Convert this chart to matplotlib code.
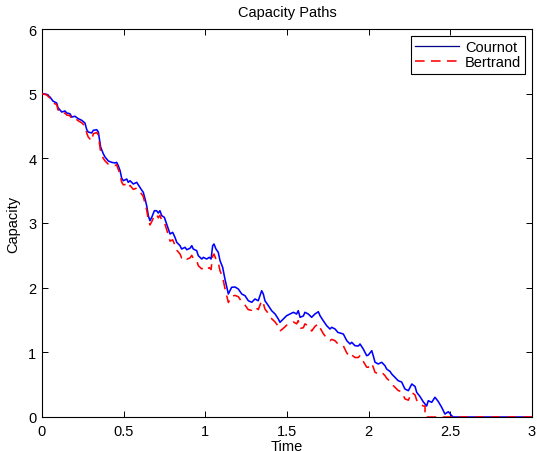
import matplotlib
matplotlib.use("Agg")
import matplotlib.pyplot as plt

plt.rcParams['font.family'] = ['Liberation Sans', 'DejaVu Sans']

# Cournot capacity path (time, capacity)
cournot_time = [
    0.000, 0.029, 0.049, 0.067, 0.090, 0.098, 0.121, 0.141, 0.151, 0.171,
    0.182, 0.202, 0.222, 0.243, 0.263, 0.274, 0.283, 0.304, 0.314, 0.335,
    0.345, 0.351, 0.359, 0.375, 0.386, 0.406, 0.427, 0.447, 0.457, 0.467,
    0.478, 0.488, 0.498, 0.519, 0.528, 0.539, 0.559, 0.580, 0.590, 0.606,
    0.620, 0.631, 0.641, 0.651, 0.661, 0.672, 0.688, 0.702, 0.712, 0.722,
    0.733, 0.749, 0.763, 0.784, 0.800, 0.814, 0.825, 0.845, 0.855, 0.876,
    0.886, 0.906, 0.917, 0.926, 0.947, 0.957, 0.978, 0.988, 1.008, 1.024,
    1.035, 1.045, 1.053, 1.065, 1.079, 1.090, 1.106, 1.120, 1.141, 1.161,
    1.182, 1.202, 1.223, 1.243, 1.263, 1.284, 1.304, 1.324, 1.345, 1.355,
    1.365, 1.386, 1.406, 1.427, 1.447, 1.457, 1.477, 1.498, 1.518, 1.539,
    1.559, 1.569, 1.580, 1.600, 1.610, 1.630, 1.651, 1.671, 1.692, 1.702,
    1.722, 1.743, 1.763, 1.774, 1.794, 1.812, 1.825, 1.845, 1.866, 1.886,
    1.896, 1.916, 1.937, 1.947, 1.967, 1.988, 1.998, 2.019, 2.028, 2.039,
    2.059, 2.080, 2.100, 2.110, 2.131, 2.141, 2.161, 2.181, 2.202, 2.222,
    2.243, 2.264, 2.284, 2.294, 2.314, 2.335, 2.355, 2.365, 2.386, 2.406,
    2.426, 2.447, 2.467, 2.488, 2.508, 2.518, 3.000,
]
cournot_cap = [
    5.000, 4.990, 4.948, 4.886, 4.855, 4.783, 4.716, 4.732, 4.701, 4.690,
    4.639, 4.650, 4.613, 4.588, 4.546, 4.443, 4.407, 4.392, 4.433, 4.443,
    4.407, 4.303, 4.175, 4.072, 4.020, 3.959, 3.938, 3.928, 3.938, 3.886,
    3.809, 3.691, 3.654, 3.680, 3.629, 3.654, 3.603, 3.629, 3.588, 3.526,
    3.475, 3.371, 3.267, 3.113, 3.035, 3.088, 3.190, 3.190, 3.154, 3.190,
    3.113, 3.088, 2.984, 2.830, 2.856, 2.779, 2.701, 2.649, 2.598, 2.624,
    2.587, 2.609, 2.649, 2.598, 2.572, 2.494, 2.443, 2.469, 2.443, 2.469,
    2.443, 2.649, 2.675, 2.598, 2.547, 2.417, 2.315, 2.134, 1.902, 2.006,
    2.010, 1.979, 1.902, 1.876, 1.798, 1.774, 1.825, 1.798, 1.953, 1.902,
    1.798, 1.721, 1.644, 1.593, 1.515, 1.464, 1.515, 1.567, 1.593, 1.619,
    1.593, 1.644, 1.542, 1.562, 1.619, 1.593, 1.542, 1.593, 1.628, 1.567,
    1.489, 1.412, 1.361, 1.387, 1.361, 1.307, 1.299, 1.283, 1.180, 1.129,
    1.155, 1.103, 1.098, 1.129, 1.051, 0.948, 0.959, 1.025, 0.948, 0.846,
    0.820, 0.846, 0.793, 0.742, 0.704, 0.665, 0.614, 0.561, 0.541, 0.433,
    0.407, 0.510, 0.472, 0.382, 0.317, 0.232, 0.170, 0.252, 0.227, 0.305,
    0.240, 0.150, 0.046, 0.082, 0.020, 0.000, 0.000,
]

# Bertrand capacity path (time, capacity)
bertrand_time = cournot_time[:146] + [2.345, 2.345, 3.000]
bertrand_cap = [
    5.00, 4.98, 4.93, 4.86, 4.83, 4.75, 4.69, 4.70, 4.67, 4.66,
    4.61, 4.62, 4.58, 4.55, 4.50, 4.39, 4.33, 4.27, 4.38, 4.40,
    4.36, 4.25, 4.10, 4.00, 3.96, 3.91, 3.90, 3.89, 3.90, 3.83,
    3.75, 3.63, 3.59, 3.60, 3.55, 3.58, 3.52, 3.54, 3.52, 3.46,
    3.41, 3.30, 3.20, 3.05, 2.97, 3.02, 3.12, 3.13, 3.08, 3.12,
    3.04, 3.01, 2.90, 2.72, 2.74, 2.66, 2.58, 2.52, 2.46, 2.48,
    2.44, 2.46, 2.50, 2.45, 2.42, 2.34, 2.29, 2.31, 2.28, 2.31,
    2.28, 2.49, 2.52, 2.44, 2.39, 2.26, 2.16, 1.99, 1.77, 1.87,
    1.88, 1.86, 1.78, 1.73, 1.66, 1.65, 1.70, 1.66, 1.80, 1.76,
    1.67, 1.60, 1.52, 1.47, 1.40, 1.33, 1.37, 1.42, 1.44, 1.47,
    1.44, 1.49, 1.37, 1.38, 1.44, 1.41, 1.33, 1.40, 1.44, 1.38,
    1.29, 1.22, 1.18, 1.20, 1.18, 1.13, 1.12, 1.10, 0.99, 0.93,
    0.96, 0.92, 0.92, 0.95, 0.86, 0.77, 0.77, 0.83, 0.77, 0.69,
    0.67, 0.69, 0.64, 0.60, 0.55, 0.51, 0.46, 0.41, 0.39, 0.28,
    0.26, 0.38, 0.34, 0.26, 0.20, 0.17,
    0.17, 0.00, 0.00,
]

x_ticks = [0, 0.5, 1, 1.5, 2, 2.5, 3]
x_tick_labels = ['0', '0.5', '1', '1.5', '2', '2.5', '3']
y_ticks = [0, 1, 2, 3, 4, 5, 6]

FS = 10.5

fig = plt.figure(figsize=(5.37, 4.52), dpi=100)
ax = fig.add_axes([42 / 537, 34 / 452, 490 / 537, 388 / 452])

ax.plot(cournot_time, cournot_cap, color='#0000ff', lw=1.15,
        label='Cournot', zorder=3)
ax.plot(bertrand_time, bertrand_cap, color='#ff0000', lw=1.15,
        linestyle=(0, (6, 4)), label='Bertrand', zorder=3.1)

ax.set_xlim(0, 3)
ax.set_ylim(0, 6)
ax.set_xticks(x_ticks)
ax.set_xticklabels(x_tick_labels)
ax.set_yticks(y_ticks)
ax.tick_params(direction='in', length=4, width=0.7, top=True, right=True,
               labelsize=FS)
ax.tick_params(axis='x', pad=5)
ax.tick_params(axis='y', pad=4)
for s in ax.spines.values():
    s.set_linewidth(0.8)
    s.set_color('black')

ax.set_title('Capacity Paths', fontsize=FS, pad=9)
ax.set_xlabel('Time', fontsize=FS, labelpad=1)
ax.set_ylabel('Capacity', fontsize=FS, labelpad=6)

leg = ax.legend(loc='upper right', fontsize=FS, fancybox=False,
                framealpha=1, edgecolor='black', handlelength=3.0,
                borderaxespad=0.45, borderpad=0.3, labelspacing=0.1,
                handletextpad=0.4)
leg.get_frame().set_linewidth(0.8)
leg.get_lines()[0].set_color('#00008b')
leg.get_lines()[0].set_linewidth(0.9)

fig.savefig('out.png', dpi=100)
